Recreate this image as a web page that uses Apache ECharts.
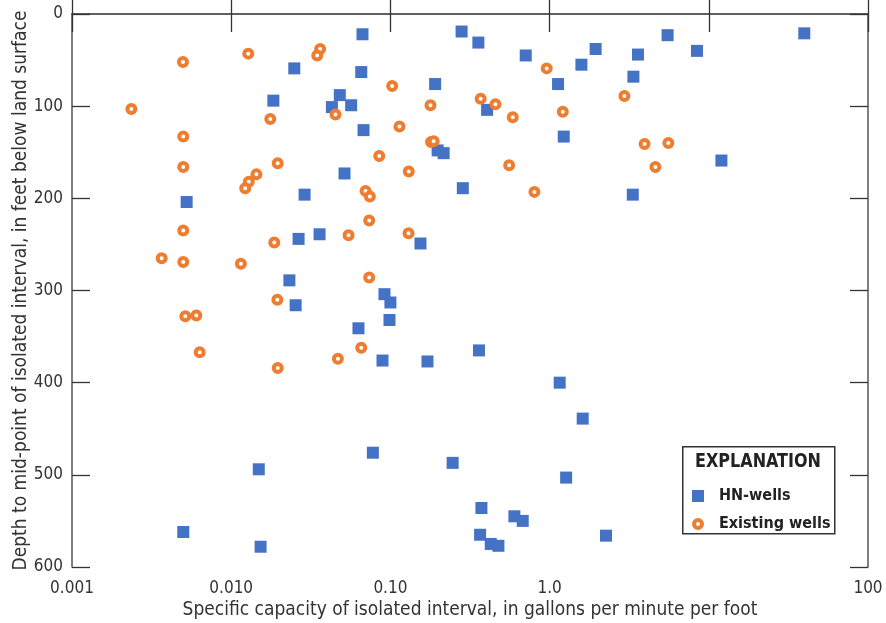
<!DOCTYPE html>
<html><head><meta charset="utf-8">
<script src="https://cdn.jsdelivr.net/npm/echarts@6/dist/echarts.min.js"></script>
<style>html,body{margin:0;padding:0;background:#fff}#c{width:886px;height:623px}</style>
</head><body><div id="c"></div>
<script>
// HN-wells: specific capacity (gpm/ft) and depth (ft)
const hnCapacity = [0.0668,0.0249,0.0656,0.191,0.0184,0.0481,0.0429,0.0567,0.0678,0.198,0.216,0.0515,0.0289,0.285,0.00525,0.0265,0.0359,0.1545,0.0232,0.0918,0.100,0.0254,0.0987,0.063,0.0892,0.171,0.36,0.0776,0.246,0.0149,0.0050,0.0153,0.373,0.366,0.427,0.477,0.601,0.678,2.26,1.157,1.614,1.27,0.28,0.357,0.708,1.946,1.584,1.13,3.59,3.36,5.51,8.43,39.8,0.405,1.227,12.0,3.33];
const hnDepth    = [22,59,63,76,94,88,101,99,126,148,151,173,196,189,204,244,239,249,289,304,313,316,332,341,376,377,365,476,487,494,562,578,536,565,575,577,545,550,566,400,439,503,19,31,45,38,55,76,44,68,23,40,21,104,133,159,196];
// Existing wells
const existingCapacity = [0.00236,0.00498,0.0050,0.0050,0.00366,0.0050,0.0050,0.0128,0.0176,0.0196,0.0144,0.0129,0.01225,0.01865,0.0115,0.0362,0.0347,0.0452,0.1026,0.1786,0.114,0.180,0.187,0.0851,0.1304,0.0698,0.0743,0.0736,0.0546,0.130,0.0736,0.0195,0.369,0.457,0.587,0.959,1.21,2.95,3.95,5.57,4.62,0.557,0.803,0.00515,0.00604,0.00634,0.0196,0.0468,0.0656];
const existingDepth    = [103,52,133,166,265,269,235,43,114,162,174,182,189,248,271,38,45,109,78,99,122,139,138,154,171,192,198,224,240,238,286,310,92,98,112,59,106,89,141,140,166,164,193,328,327,367,384,374,362];
// Tick labels
const xTickLabels = ['0.001','0.010','0.10','1.0','','100'];
const yTickValues = [0,100,200,300,400,500,600];

const FONT = "'Liberation Sans Narrow','DejaVu Sans Condensed','Roboto Condensed','Liberation Sans',sans-serif";
const AX = '#555', TXT = '#333';

const hnData = hnCapacity.map((v,i)=>[v,hnDepth[i]]);
const exData = existingCapacity.map((v,i)=>[v,existingDepth[i]]);

const baseX = {
  type:'log', logBase:10, min:0.001, max:100, interval:1,
  axisLine:{show:true, lineStyle:{color:AX,width:1.5}},
  axisTick:{show:true, inside:true, length:18, lineStyle:{color:TXT,width:1.3}},
  minorTick:{show:false}, splitLine:{show:false}
};
const baseY = {
  type:'value', inverse:true, min:yTickValues[0], max:yTickValues[yTickValues.length-1], interval:100,
  axisLine:{show:true, lineStyle:{color:AX,width:1.5}},
  axisTick:{show:true, inside:true, length:18, lineStyle:{color:TXT,width:1.3}},
  splitLine:{show:false}
};

const ringIcon = 'path://M0,6A6,6 0 1 1 12,6A6,6 0 1 1 0,6Z M4,6A2,2 0 1 0 8,6A2,2 0 1 0 4,6Z';

const chart = echarts.init(document.getElementById('c'), null, {renderer:'canvas'});
chart.setOption({
  animation:false,
  backgroundColor:'#fff',
  textStyle:{fontFamily:FONT},
  grid:{left:72, right:18, top:14, bottom:56, containLabel:false, outerBoundsMode:'none'},
  xAxis:[
    Object.assign({}, baseX, {position:'bottom',
      axisLabel:{show:true, fontSize:17, color:TXT, fontFamily:FONT, margin:13,
        formatter:v=>xTickLabels[Math.round(Math.log10(v))+3]},
      name:'Specific capacity of isolated interval, in gallons per minute per foot',
      nameLocation:'middle', nameGap:34, nameMoveOverlap:false,
      nameTextStyle:{fontSize:19, color:TXT, fontFamily:FONT}}),
    Object.assign({}, baseX, {position:'top', axisLabel:{show:false}})
  ],
  yAxis:[
    Object.assign({}, baseY, {position:'left',
      axisLabel:{show:true, fontSize:17, color:TXT, fontFamily:FONT, margin:9},
      name:'Depth to mid-point of isolated interval, in feet below land surface',
      nameLocation:'middle', nameGap:41, nameMoveOverlap:false,
      nameTextStyle:{fontSize:19, color:TXT, fontFamily:FONT}}),
    Object.assign({}, baseY, {position:'right', axisLabel:{show:false}})
  ],
  legend:{
    orient:'vertical', left:692, top:488, itemWidth:12, itemHeight:12, itemGap:12, padding:0,
    textStyle:{fontSize:16, fontWeight:'bold', color:'#222', fontFamily:FONT, padding:[0,0,0,10]},
    data:[
      {name:'HN-wells', icon:'rect', itemStyle:{color:'#4472C4', borderWidth:0}},
      {name:'Existing wells', icon:ringIcon, itemStyle:{color:'#ED7D31', borderWidth:0}}
    ]
  },
  graphic:[
    {type:'rect', left:682, top:446, shape:{width:152, height:87},
     style:{fill:'#fff', stroke:'#333', lineWidth:1.5}, z:-1},
    {type:'text', x:758, y:452, scaleX:0.89, originX:0, style:{text:'EXPLANATION', fontSize:20, fontWeight:'bold',
     fill:'#222', fontFamily:FONT, textAlign:'center'}}
  ],
  series:[
    {name:'HN-wells', type:'scatter', symbol:'rect', symbolSize:12, data:hnData,
     itemStyle:{color:'#4472C4', opacity:1}},
    {name:'Existing wells', type:'scatter', symbol:'circle', symbolSize:8, data:exData,
     itemStyle:{color:'#ffffff', borderColor:'#ED7D31', borderWidth:4, opacity:1}}
  ]
});
</script>
</body></html>
